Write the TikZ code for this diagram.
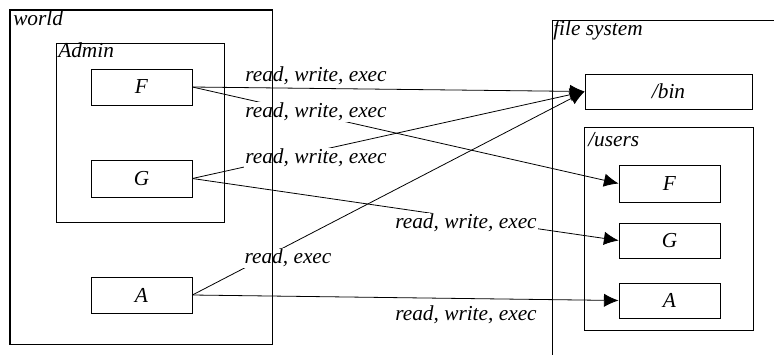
\documentclass[tikz,border=0pt]{standalone}
\usepackage{fontspec}
\setmainfont{Liberation Serif}
\usetikzlibrary{arrows.meta,fit}
\begin{document}
\begin{tikzpicture}[x=0.75pt,y=-0.75pt,
  txt/.style={font=\fontsize{16}{19}\selectfont\itshape},
  box/.style={draw, line width=0.6pt, inner sep=0pt, txt},
  cell/.style={draw, line width=0.6pt, inner sep=0pt, txt, minimum width=75.75pt, minimum height=27pt},
  title/.style={inner sep=0pt, txt},
  lbl/.style={inner sep=1pt, fill=white, txt},
  conn/.style={line width=0.6pt, -{Latex[length=11pt,width=10pt]}}]
\useasboundingbox (0,0) rectangle (774,354);
\clip (0,0) rectangle (774,354);
% left side
\node[box, fit={(10,10) (272,344)}] (world) {};
\node[title, anchor=base west] (worldt) at (13,25) {world};
\node[box, fit={(56,43) (224,222)}] (admin) {};
\node[title, anchor=base west] (admint) at (58,57) {Admin};
\node[cell] (F) at (141.5,87) {F};
\node[cell, minimum height=27.75pt] (G) at (141.5,178.5) {G};
\node[cell] (A) at (141.5,295) {A};
% right side
\node[box, fit={(552,20) (790,370)}] (fs) {};
\node[title, anchor=base west] (fst) at (553,35) {file system};
\node[cell, minimum width=125.25pt, minimum height=26.25pt] (bin) at (668.5,91.5) {/bin};
\node[box, fit={(584,127) (753,330)}] (users) {};
\node[title, anchor=base west] (userst) at (588,146) {/users};
\node[cell, minimum height=27.75pt] (uF) at (669.5,183.5) {F};
\node[cell, minimum height=26.25pt] (uG) at (669.5,240.5) {G};
\node[cell, minimum height=26.25pt] (uA) at (669.5,300.5) {A};
% connectors
\draw[conn] (F.east) -- (bin.west);
\draw[conn] (F.east) -- (uF.west);
\draw[conn] (G.east) -- (bin.west);
\draw[conn] (G.east) -- (uG.west);
\draw[conn] (A.east) -- (bin.west);
\draw[conn] (A.east) -- (uA.west);
% labels
\node[lbl] (l1) at (316,76) {read, write, exec};
\node[lbl] (l2) at (316,112) {read, write, exec};
\node[lbl] (l3) at (316,158) {read, write, exec};
\node[lbl] (l4) at (466,223) {read, write, exec};
\node[lbl] (l5) at (288,258) {read, exec};
\node[lbl] (l6) at (466,315) {read, write, exec};
% world outline on top of labels
\draw[line width=0.6pt] (world.north west) rectangle (world.south east);
\end{tikzpicture}
\end{document}
